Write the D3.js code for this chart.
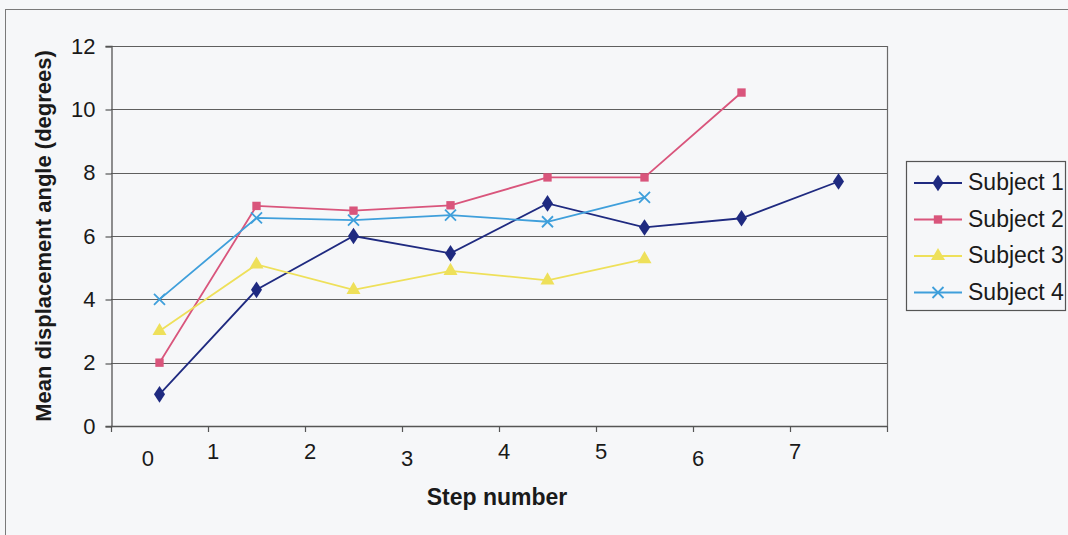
<!DOCTYPE html>
<html>
<head>
<meta charset="utf-8">
<script src="https://cdn.jsdelivr.net/npm/d3@7/dist/d3.min.js"></script>
<style>
  html, body { margin: 0; padding: 0; background: #f6f7f9; }
  svg { display: block; }
  text { font-family: "Liberation Sans", Arial, sans-serif; fill: #1a1a1a; }
</style>
</head>
<body>
<svg id="chart" width="1068" height="535"></svg>
<script>
// ---- data ----
const categories = ["0", "1", "2", "3", "4", "5", "6", "7"];
const seriesNames = ["Subject 1", "Subject 2", "Subject 3", "Subject 4"];
const subject1 = [1.0, 4.3, 6.0, 5.45, 7.03, 6.27, 6.56, 7.72];
const subject2 = [2.0, 6.95, 6.8, 6.97, 7.85, 7.85, 10.53];
const subject3 = [3.0, 5.1, 4.3, 4.9, 4.6, 5.27];
const subject4 = [4.0, 6.57, 6.5, 6.66, 6.45, 7.22];
const yTicks = [0, 2, 4, 6, 8, 10, 12];
const xTitle = "Step number";
const yTitle = "Mean displacement angle (degrees)";

// ---- styles ----
const colors = ["#1f2a80", "#d9557c", "#eee05a", "#3f9fdb"];
const shapes = [d3.symbolDiamond, d3.symbolSquare, d3.symbolTriangle, d3.symbolCross];
const symbolSizes = [80, 70, 85, 0];

const svg = d3.select("#chart");
const W = 1068, H = 535;
const margin = { left: 111, top: 46, right: W - 887, bottom: H - 426 };

// outer chart border
svg.append("rect")
  .attr("x", 5.5).attr("y", 9.5).attr("width", 1200).attr("height", 700)
  .attr("fill", "none").attr("stroke", "#7a7a7a").attr("stroke-width", 1);

const x = d3.scaleBand().domain(categories).range([margin.left, W - margin.right]).padding(0);
const y = d3.scaleLinear().domain([0, 12]).range([H - margin.bottom, margin.top]);

// gridlines
svg.append("g")
  .selectAll("line").data(yTicks.filter(d => d > 0)).join("line")
  .attr("x1", margin.left).attr("x2", W - margin.right)
  .attr("y1", d => Math.round(y(d)) + 0.5).attr("y2", d => Math.round(y(d)) + 0.5)
  .attr("stroke", "#5f5f5f").attr("stroke-width", 1.2);

// right border of plot area
svg.append("line")
  .attr("x1", W - margin.right + 0.5).attr("x2", W - margin.right + 0.5)
  .attr("y1", margin.top).attr("y2", H - margin.bottom)
  .attr("stroke", "#6a6a6a").attr("stroke-width", 1.2);

// y axis
const yAxis = d3.axisLeft(y).tickValues(yTicks).tickSize(6).tickPadding(10).tickFormat(d3.format("d"));
const gy = svg.append("g").attr("transform", `translate(${margin.left + 0.5},0)`).call(yAxis);
gy.attr("font-size", 22).attr("font-family", "'Liberation Sans', Arial, sans-serif");
gy.select(".domain").attr("stroke", "#555").attr("stroke-width", 1.3);
gy.selectAll(".tick line").attr("stroke", "#555").attr("stroke-width", 1.2)
  .attr("transform", d => `translate(0,${Math.round(y(d)) + 0.5 - y(d)})`);
gy.selectAll(".tick text").attr("fill", "#1a1a1a");

// x axis: ticks at category boundaries
const boundaries = d3.range(categories.length + 1).map(i => margin.left + i * x.bandwidth());
const gx = svg.append("g");
gx.append("line")
  .attr("x1", margin.left).attr("x2", W - margin.right)
  .attr("y1", Math.round(y(0)) + 0.5).attr("y2", Math.round(y(0)) + 0.5)
  .attr("stroke", "#555").attr("stroke-width", 1.3);
gx.selectAll("line.tk").data(boundaries).join("line").attr("class", "tk")
  .attr("x1", d => Math.round(d) + 0.5).attr("x2", d => Math.round(d) + 0.5)
  .attr("y1", y(0)).attr("y2", y(0) + 6)
  .attr("stroke", "#555").attr("stroke-width", 1.2);
// labels (as in the original, near the boundary ticks)
gx.selectAll("text").data(categories).join("text")
  .attr("x", (d, i) => i === 0 ? x(d) + x.bandwidth() * 0.38 : x(d) + 5)
  .attr("y", (d, i) => y(0) + (i % 3 === 0 ? 34 : 27))
  .attr("text-anchor", "middle").attr("dominant-baseline", "middle")
  .attr("font-size", 22).text(d => d);

// axis titles
svg.append("text")
  .attr("x", 497).attr("y", 499)
  .attr("text-anchor", "middle").attr("dominant-baseline", "middle")
  .attr("font-size", 23).attr("font-weight", "bold").text(xTitle);
svg.append("text")
  .attr("transform", `translate(45,${(margin.top + H - margin.bottom) / 2 + 0}) rotate(-90)`)
  .attr("text-anchor", "middle").attr("dominant-baseline", "middle")
  .attr("font-size", 22).attr("font-weight", "bold").text(yTitle);

// series
const allSeries = [subject1, subject2, subject3, subject4];
const cx = i => x(categories[i]) + x.bandwidth() / 2;
const line = d3.line().x((d, i) => cx(i)).y(d => y(d));

function drawMarker(g, k, px, py) {
  if (k === 3) {
    const s = 5.5;
    g.append("path")
      .attr("d", `M${px - s},${py - s}L${px + s},${py + s}M${px - s},${py + s}L${px + s},${py - s}`)
      .attr("stroke", colors[k]).attr("stroke-width", 1.8).attr("fill", "none");
  } else {
    g.append("path")
      .attr("d", d3.symbol().type(shapes[k]).size(symbolSizes[k])())
      .attr("transform", `translate(${px},${py})${k === 0 ? " scale(1.15,1)" : ""}`)
      .attr("fill", colors[k]).attr("stroke", "none");
  }
}

allSeries.forEach((vals, k) => {
  const g = svg.append("g");
  g.append("path").datum(vals).attr("d", line)
    .attr("fill", "none").attr("stroke", colors[k]).attr("stroke-width", 1.8);
  vals.forEach((v, i) => drawMarker(g, k, cx(i), y(v)));
});

// legend
const lg = svg.append("g");
lg.append("rect").attr("x", 906.5).attr("y", 161.5).attr("width", 159).attr("height", 149)
  .attr("fill", "none").attr("stroke", "#555").attr("stroke-width", 1.2);
seriesNames.forEach((name, k) => {
  const ly = 183 + k * 36.5;
  lg.append("line").attr("x1", 914).attr("x2", 962).attr("y1", ly).attr("y2", ly)
    .attr("stroke", colors[k]).attr("stroke-width", 1.8);
  drawMarker(lg, k, 938, ly);
  lg.append("text").attr("x", 968).attr("y", ly + 1)
    .attr("dominant-baseline", "middle").attr("font-size", 23).text(name);
});
</script>
</body>
</html>
